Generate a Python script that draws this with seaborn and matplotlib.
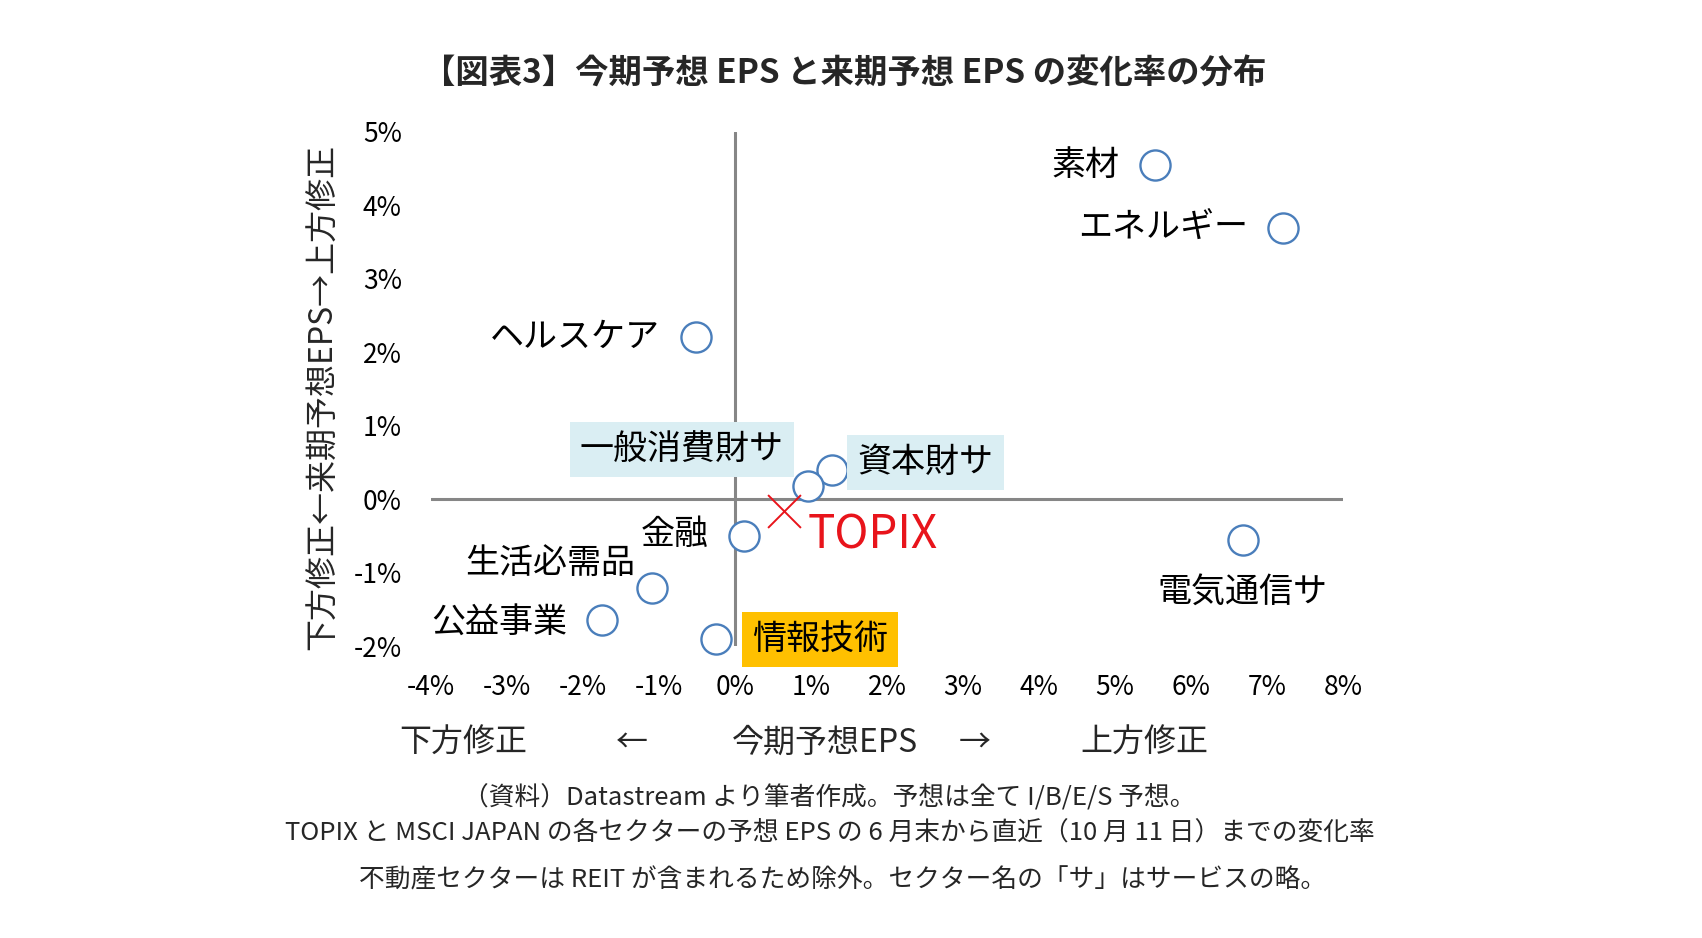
import matplotlib
matplotlib.use("Agg")
import matplotlib.pyplot as plt
import seaborn as sns
import pandas as pd

# データ（今期予想EPS・来期予想EPSの変化率, %）
sectors = ["素材", "エネルギー", "ヘルスケア", "資本財サ", "一般消費財サ",
           "金融", "生活必需品", "公益事業", "情報技術", "電気通信サ"]
eps_this = [5.53, 7.21, -0.51, 1.27, 0.96, 0.12, -1.09, -1.75, -0.25, 6.68]
eps_next = [4.54, 3.69, 2.20, 0.39, 0.18, -0.50, -1.21, -1.65, -1.90, -0.56]
topix_this = [0.645]
topix_next = [-0.17]

x_ticks = [-4, -3, -2, -1, 0, 1, 2, 3, 4, 5, 6, 7, 8]
y_ticks = [-2, -1, 0, 1, 2, 3, 4, 5]

# ラベルの配置（ピクセル単位のオフセット, 揃え, 背景色）
label_style = {
    "素材":       (-36, 0, "right", None),
    "エネルギー":   (-35, 0, "right", None),
    "ヘルスケア":   (-36, 0, "right", None),
    "資本財サ":    (94, 8, "center", "#DAEEF3"),
    "一般消費財サ":  (-126, 36, "center", "#DAEEF3"),
    "金融":       (-35, 1, "right", None),
    "生活必需品":   (-17, 24, "right", None),
    "公益事業":    (-35, -2, "right", None),
    "情報技術":    (104, -1, "center", "#FFC000"),
    "電気通信サ":   (0, -52, "center", None),
}

sns.set_theme(style="white")
plt.rcParams["font.family"] = ["Noto Sans CJK JP", "DejaVu Sans"]

df = pd.DataFrame({"sector": sectors, "this": eps_this, "next": eps_next})
df_topix = pd.DataFrame({"this": topix_this, "next": topix_next})

fig = plt.figure(figsize=(17.02, 9.38), dpi=100)
ax = fig.add_axes([0.2532, 0.3113, 0.5359, 0.5485])

# 軸（原点で交差）
ax.axhline(0, color="#868686", lw=2.2, zorder=1)
ax.axvline(0, color="#868686", lw=2.2, zorder=1)

sns.scatterplot(data=df, x="this", y="next", ax=ax, marker="o", s=470,
                facecolor="white", edgecolor="#4A7EBB", linewidth=1.7,
                zorder=3, clip_on=False)
sns.scatterplot(data=df_topix, x="this", y="next", ax=ax, marker="x", s=560,
                color="#E8141B", linewidth=1.4, zorder=3, clip_on=False)

for _, row in df.iterrows():
    dx, dy, ha, bg = label_style[row["sector"]]
    kw = {}
    if bg:
        kw["bbox"] = dict(boxstyle="square,pad=0.3", fc=bg, ec="none")
    ax.annotate(row["sector"], xy=(row["this"], row["next"]), xytext=(dx, dy),
                textcoords="offset pixels", ha=ha, va="center",
                fontsize=24.5, color="black", zorder=4, **kw)

ax.annotate("TOPIX", xy=(topix_this[0], topix_next[0]), xytext=(89, -24),
            textcoords="offset pixels", ha="center", va="center",
            fontsize=33, color="#E8141B")

ax.set_xlim(-4, 8)
ax.set_ylim(-2, 5)
ax.set_xticks(x_ticks)
ax.set_yticks(y_ticks)
ax.set_xticklabels([f"{v}%" for v in x_ticks])
ax.set_yticklabels([f"{v}%" for v in y_ticks])
ax.tick_params(axis="both", length=0, labelsize=19, colors="black")
ax.tick_params(axis="y", pad=21)
ax.tick_params(axis="x", pad=20)
for sp in ax.spines.values():
    sp.set_visible(False)
ax.set_xlabel("")
ax.set_ylabel("")
ax.patch.set_alpha(0)

# 縦軸ラベル
fig.text(323 / 1702, 1 - 397 / 938, "下方修正←来期予想EPS→上方修正",
         rotation=90, ha="center", va="center", fontsize=23)

# 横軸ラベル
bottom_y = 1 - 743 / 938
for xpix, txt in [(463, "下方修正"), (632, "←"), (825, "今期予想EPS"),
                  (975, "→"), (1144, "上方修正")]:
    fig.text(xpix / 1702, bottom_y, txt, ha="center", va="center", fontsize=23)

fig.text(844 / 1702, 1 - 74 / 938,
         "【図表3】今期予想 EPS と来期予想 EPS の変化率の分布",
         ha="center", va="center", fontsize=24, fontweight="bold")

notes = [
    (829, 798, "（資料）Datastream より筆者作成。予想は全て I/B/E/S 予想。"),
    (830, 834, "TOPIX と MSCI JAPAN の各セクターの予想 EPS の 6 月末から直近（10 月 11 日）までの変化率"),
    (843, 880, "不動産セクターは REIT が含まれるため除外。セクター名の「サ」はサービスの略。"),
]
for xpix, ypix, txt in notes:
    fig.text(xpix / 1702, 1 - ypix / 938, txt, ha="center", va="center", fontsize=18.5)

fig.savefig("out.png", dpi=100, facecolor="white")
